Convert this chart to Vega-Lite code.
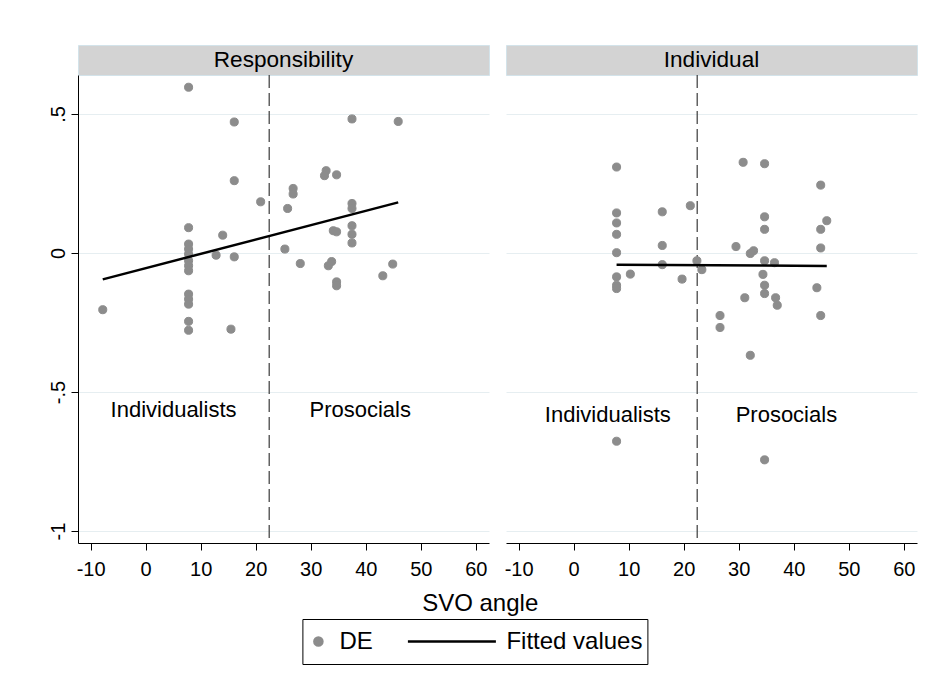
{
  "$schema": "https://vega.github.io/schema/vega-lite/v6.json",
  "background": "white",
  "padding": {"left": 48, "top": 44, "right": 5, "bottom": 5},
  "config": {
    "font": "Liberation Sans",
    "view": {"stroke": null},
    "axis": {"labelFont": "Liberation Sans", "titleFont": "Liberation Sans", "labelColor": "black", "titleColor": "black", "domainColor": "black", "tickColor": "black", "gridColor": "#e6eef1", "gridWidth": 1, "labelFontSize": 20, "tickSize": 7, "titleFontWeight": "normal", "titleFontSize": 24}
  },
  "datasets": {
    "hdrL": [{"panel": "Responsibility"}],
    "hdrR": [{"panel": "Individual"}],
    "cut": [{"x": 22.45}],
    "ptsL": [
      {"x": 7.8, "y": 0.596, "series": "DE"}, {"x": 16.1, "y": 0.471, "series": "DE"}, {"x": 37.5, "y": 0.482, "series": "DE"}, {"x": 45.9, "y": 0.473, "series": "DE"},
      {"x": 16.1, "y": 0.26, "series": "DE"}, {"x": 32.8, "y": 0.296, "series": "DE"}, {"x": 32.5, "y": 0.278, "series": "DE"}, {"x": 34.7, "y": 0.281, "series": "DE"},
      {"x": 26.8, "y": 0.232, "series": "DE"}, {"x": 26.8, "y": 0.212, "series": "DE"}, {"x": 20.9, "y": 0.184, "series": "DE"}, {"x": 25.8, "y": 0.16, "series": "DE"},
      {"x": 37.5, "y": 0.178, "series": "DE"}, {"x": 37.5, "y": 0.16, "series": "DE"}, {"x": 37.5, "y": 0.098, "series": "DE"}, {"x": 37.5, "y": 0.067, "series": "DE"},
      {"x": 37.5, "y": 0.036, "series": "DE"}, {"x": 34.1, "y": 0.08, "series": "DE"}, {"x": 34.7, "y": 0.076, "series": "DE"}, {"x": 7.8, "y": 0.091, "series": "DE"},
      {"x": 14.0, "y": 0.064, "series": "DE"}, {"x": 7.8, "y": 0.032, "series": "DE"}, {"x": 7.8, "y": 0.014, "series": "DE"}, {"x": 7.8, "y": -0.004, "series": "DE"},
      {"x": 7.8, "y": -0.028, "series": "DE"}, {"x": 7.8, "y": -0.046, "series": "DE"}, {"x": 7.8, "y": -0.064, "series": "DE"}, {"x": 12.8, "y": -0.008, "series": "DE"},
      {"x": 16.1, "y": -0.014, "series": "DE"}, {"x": 25.3, "y": 0.014, "series": "DE"}, {"x": 28.1, "y": -0.038, "series": "DE"}, {"x": 33.8, "y": -0.031, "series": "DE"},
      {"x": 33.2, "y": -0.046, "series": "DE"}, {"x": 44.9, "y": -0.04, "series": "DE"}, {"x": 43.1, "y": -0.082, "series": "DE"}, {"x": 34.7, "y": -0.104, "series": "DE"},
      {"x": 34.7, "y": -0.118, "series": "DE"}, {"x": -7.8, "y": -0.204, "series": "DE"}, {"x": 7.8, "y": -0.148, "series": "DE"}, {"x": 7.8, "y": -0.166, "series": "DE"},
      {"x": 7.8, "y": -0.184, "series": "DE"}, {"x": 7.8, "y": -0.246, "series": "DE"}, {"x": 7.8, "y": -0.278, "series": "DE"}, {"x": 15.5, "y": -0.274, "series": "DE"}
    ],
    "ptsR": [
      {"x": 7.8, "y": 0.309, "series": "DE"}, {"x": 30.8, "y": 0.326, "series": "DE"}, {"x": 34.7, "y": 0.321, "series": "DE"}, {"x": 44.9, "y": 0.244, "series": "DE"},
      {"x": 21.2, "y": 0.17, "series": "DE"}, {"x": 16.1, "y": 0.148, "series": "DE"}, {"x": 7.8, "y": 0.144, "series": "DE"}, {"x": 7.8, "y": 0.108, "series": "DE"},
      {"x": 7.8, "y": 0.067, "series": "DE"}, {"x": 7.8, "y": 0.001, "series": "DE"}, {"x": 34.7, "y": 0.13, "series": "DE"}, {"x": 34.7, "y": 0.085, "series": "DE"},
      {"x": 46.0, "y": 0.116, "series": "DE"}, {"x": 44.9, "y": 0.085, "series": "DE"}, {"x": 44.9, "y": 0.018, "series": "DE"}, {"x": 16.1, "y": 0.027, "series": "DE"},
      {"x": 29.5, "y": 0.023, "series": "DE"}, {"x": 32.7, "y": 0.008, "series": "DE"}, {"x": 32.1, "y": -0.002, "series": "DE"}, {"x": 22.4, "y": -0.028, "series": "DE"},
      {"x": 23.3, "y": -0.06, "series": "DE"}, {"x": 16.1, "y": -0.042, "series": "DE"}, {"x": 34.7, "y": -0.028, "series": "DE"}, {"x": 36.5, "y": -0.035, "series": "DE"},
      {"x": 34.4, "y": -0.077, "series": "DE"}, {"x": 10.3, "y": -0.076, "series": "DE"}, {"x": 7.8, "y": -0.086, "series": "DE"}, {"x": 19.7, "y": -0.094, "series": "DE"},
      {"x": 7.8, "y": -0.116, "series": "DE"}, {"x": 7.8, "y": -0.128, "series": "DE"}, {"x": 34.7, "y": -0.116, "series": "DE"}, {"x": 34.7, "y": -0.146, "series": "DE"},
      {"x": 44.2, "y": -0.125, "series": "DE"}, {"x": 31.1, "y": -0.161, "series": "DE"}, {"x": 36.7, "y": -0.161, "series": "DE"}, {"x": 37.0, "y": -0.188, "series": "DE"},
      {"x": 44.9, "y": -0.225, "series": "DE"}, {"x": 26.6, "y": -0.225, "series": "DE"}, {"x": 26.6, "y": -0.268, "series": "DE"}, {"x": 32.1, "y": -0.368, "series": "DE"},
      {"x": 7.8, "y": -0.677, "series": "DE"}, {"x": 34.7, "y": -0.744, "series": "DE"}
    ],
    "fitL": [{"x": -7.8, "y": -0.095}, {"x": 45.9, "y": 0.182}],
    "fitR": [{"x": 7.8, "y": -0.042}, {"x": 46.0, "y": -0.047}],
    "lblL": [{"x": 5.06, "y": -0.566, "label": "Individualists"}, {"x": 38.99, "y": -0.566, "label": "Prosocials"}],
    "lblR": [{"x": 6.2, "y": -0.581, "label": "Individualists"}, {"x": 38.66, "y": -0.581, "label": "Prosocials"}]
  },
  "concat": [
    {
      "width": 411, "height": 30,
      "view": {"fill": "#d3d3d3", "stroke": "#d3e3ea"},
      "data": {"name": "hdrL"},
      "mark": {"type": "text", "fontSize": 22.6, "color": "black", "font": "Liberation Sans"},
      "encoding": {"text": {"field": "panel", "type": "nominal"}}
    },
    {
      "width": 411, "height": 30,
      "view": {"fill": "#d3d3d3", "stroke": "#d3e3ea"},
      "data": {"name": "hdrR"},
      "mark": {"type": "text", "fontSize": 22.6, "color": "black", "font": "Liberation Sans"},
      "encoding": {"text": {"field": "panel", "type": "nominal"}}
    },
    {
      "width": 411, "height": 468,
      "layer": [
        {
          "data": {"name": "cut"},
          "mark": {"type": "rule", "color": "#3a3a3a", "strokeWidth": 1.2, "strokeDash": [13, 5]},
          "encoding": {
            "x": {"field": "x", "type": "quantitative", "scale": {"domain": [-12.3, 62.4], "nice": false, "zero": false},
              "axis": {"values": [-10, 0, 10, 20, 30, 40, 50, 60], "labelExpr": "datum.value + ''", "grid": false, "labelPadding": 9, "title": "SVO angle", "titleX": 401.7, "titlePadding": 12}}
          }
        },
        {
          "data": {"name": "ptsL"},
          "mark": {"type": "point", "filled": true, "opacity": 1, "strokeWidth": 1},
          "encoding": {
            "x": {"field": "x", "type": "quantitative", "scale": {"domain": [-12.3, 62.4], "nice": false, "zero": false}},
            "y": {"field": "y", "type": "quantitative", "scale": {"domain": [-1.043, 0.64], "nice": false, "zero": false},
              "axis": {"values": [-1, -0.5, 0, 0.5], "labelExpr": "datum.value == 0.5 ? '.5' : datum.value == -0.5 ? '-.5' : datum.value + ''", "labelAngle": -90, "labelAlign": "center", "labelBaseline": "bottom", "labelPadding": 3, "grid": true, "title": null}},
            "color": {"field": "series", "type": "nominal", "scale": {"domain": ["DE", "Fitted values"], "range": ["#8c8c8c", "#000000"]},
              "legend": {"title": null, "orient": "none", "legendX": 224.4, "legendY": 574, "direction": "horizontal", "padding": 4, "strokeColor": "black", "fillColor": "white", "labelOffset": 9, "columnPadding": 33, "clipHeight": 37, "labelFontSize": 24, "labelFont": "Liberation Sans", "labelColor": "black", "symbolStrokeWidth": 2.5,
                "encode": {"symbols": {"strokeWidth": {"value": {"expr": "datum.value === 'DE' ? 1 : 2.5"}}}}}},
            "stroke": {"field": "series", "type": "nominal", "scale": {"domain": ["DE", "Fitted values"], "range": ["#8c8c8c", "#000000"]}},
            "shape": {"field": "series", "type": "nominal", "scale": {"domain": ["DE", "Fitted values"], "range": ["circle", "stroke"]}},
            "size": {"field": "series", "type": "nominal", "scale": {"type": "point", "padding": 0, "domain": ["DE", "Fitted values"], "range": [65, 7744]}}
          }
        },
        {
          "data": {"name": "fitL"},
          "mark": {"type": "line", "color": "black", "strokeWidth": 2.5},
          "encoding": {
            "x": {"field": "x", "type": "quantitative", "scale": {"domain": [-12.3, 62.4], "nice": false, "zero": false}},
            "y": {"field": "y", "type": "quantitative", "scale": {"domain": [-1.043, 0.64], "nice": false, "zero": false}}
          }
        },
        {
          "data": {"name": "lblL"},
          "mark": {"type": "text", "fontSize": 22, "color": "black", "align": "center", "baseline": "middle"},
          "encoding": {
            "x": {"field": "x", "type": "quantitative", "scale": {"domain": [-12.3, 62.4], "nice": false, "zero": false}},
            "y": {"field": "y", "type": "quantitative", "scale": {"domain": [-1.043, 0.64], "nice": false, "zero": false}},
            "text": {"field": "label", "type": "nominal"}
          }
        }
      ]
    },
    {
      "width": 411, "height": 468,
      "layer": [
        {
          "data": {"name": "cut"},
          "mark": {"type": "rule", "color": "#3a3a3a", "strokeWidth": 1.2, "strokeDash": [13, 5]},
          "encoding": {
            "x": {"field": "x", "type": "quantitative", "scale": {"domain": [-12.3, 62.4], "nice": false, "zero": false},
              "axis": {"values": [-10, 0, 10, 20, 30, 40, 50, 60], "labelExpr": "datum.value + ''", "grid": false, "labelPadding": 9, "title": null}}
          }
        },
        {
          "data": {"name": "ptsR"},
          "mark": {"type": "point", "filled": true, "opacity": 1, "strokeWidth": 1},
          "encoding": {
            "x": {"field": "x", "type": "quantitative", "scale": {"domain": [-12.3, 62.4], "nice": false, "zero": false}},
            "y": {"field": "y", "type": "quantitative", "scale": {"domain": [-1.043, 0.64], "nice": false, "zero": false},
              "axis": {"values": [-1, -0.5, 0, 0.5], "labels": false, "ticks": false, "domain": false, "grid": true, "title": null}},
            "color": {"field": "series", "type": "nominal", "scale": {"domain": ["DE", "Fitted values"], "range": ["#8c8c8c", "#000000"]}},
            "stroke": {"field": "series", "type": "nominal", "scale": {"domain": ["DE", "Fitted values"], "range": ["#8c8c8c", "#000000"]}},
            "shape": {"field": "series", "type": "nominal", "scale": {"domain": ["DE", "Fitted values"], "range": ["circle", "stroke"]}},
            "size": {"field": "series", "type": "nominal", "scale": {"type": "point", "padding": 0, "domain": ["DE", "Fitted values"], "range": [65, 7744]}}
          }
        },
        {
          "data": {"name": "fitR"},
          "mark": {"type": "line", "color": "black", "strokeWidth": 2.5},
          "encoding": {
            "x": {"field": "x", "type": "quantitative", "scale": {"domain": [-12.3, 62.4], "nice": false, "zero": false}},
            "y": {"field": "y", "type": "quantitative", "scale": {"domain": [-1.043, 0.64], "nice": false, "zero": false}}
          }
        },
        {
          "data": {"name": "lblR"},
          "mark": {"type": "text", "fontSize": 22, "color": "black", "align": "center", "baseline": "middle"},
          "encoding": {
            "x": {"field": "x", "type": "quantitative", "scale": {"domain": [-12.3, 62.4], "nice": false, "zero": false}},
            "y": {"field": "y", "type": "quantitative", "scale": {"domain": [-1.043, 0.64], "nice": false, "zero": false}},
            "text": {"field": "label", "type": "nominal"}
          }
        }
      ]
    }
  ],
  "columns": 2,
  "spacing": {"row": 0, "column": 17},
  "bounds": "flush",
  "resolve": {"scale": {"x": "independent", "y": "independent"}, "axis": {"x": "independent", "y": "independent"}}
}
